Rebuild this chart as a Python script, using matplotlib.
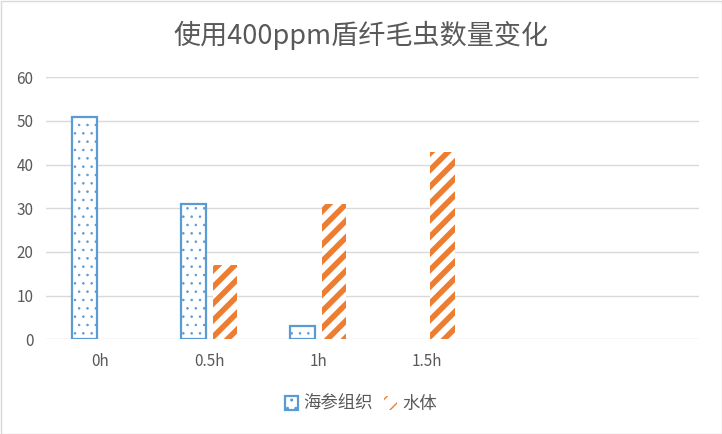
import numpy as np
import matplotlib
matplotlib.use("Agg")
import matplotlib.pyplot as plt
from matplotlib.patches import Patch, Rectangle

plt.rcParams['font.family'] = ['Noto Sans CJK SC', 'DejaVu Sans']

title = "使用400ppm盾纤毛虫数量变化"
categories = ["0h", "0.5h", "1h", "1.5h", "", ""]
series_names = ["海参组织", "水体"]
haishen = [51, 31, 3, np.nan, np.nan, np.nan]
shuiti = [np.nan, 17, 31, 43, np.nan, np.nan]
yticks = [0, 10, 20, 30, 40, 50, 60]

blue = "#5B9BD5"
orange = "#ED7D31"
grid = "#D9D9D9"
txt = "#595959"

fig = plt.figure(figsize=(7.22, 4.34), dpi=100)
ax = fig.add_axes([46/722, 94.7/434, 653/722, 262/434])

x = np.arange(len(categories))
w = 0.226
off = 0.145
with plt.rc_context({'hatch.linewidth': 0.6}):
    ax.bar(x - off, haishen, w, facecolor="white", edgecolor=blue, linewidth=1.6,
           hatch='..', zorder=3)
    h_blue = Patch(facecolor="white", edgecolor=blue, linewidth=1.6, hatch='..')
with plt.rc_context({'hatch.linewidth': 4.0}):
    ax.bar(x + off, shuiti, w, facecolor="white", edgecolor=orange, linewidth=0,
           hatch='//', zorder=3)
    h_orange = Patch(facecolor="white", edgecolor=orange, linewidth=0, hatch='//')

ax.set_xlim(-0.5, len(categories) - 0.5)
ax.set_ylim(0, 60)
ax.set_yticks(yticks)
ax.set_xticks(x)
ax.set_xticklabels(categories)
ax.yaxis.grid(True, color=grid, linewidth=1.0, zorder=0)
ax.set_axisbelow(True)
for s in ax.spines.values():
    s.set_visible(False)
ax.tick_params(length=0, colors=txt, labelsize=11)
ax.tick_params(axis='y', pad=9)
ax.tick_params(axis='x', pad=10)

fig.text(0.5, 1 - 35/434, title, ha='center', va='center', fontsize=19.5, color=txt)

leg = fig.legend([h_blue, h_orange], series_names, loc='center', bbox_to_anchor=(0.5, 1 - 404/434),
                 ncol=2, frameon=False, fontsize=12.5, handlelength=0.8, handleheight=0.8,
                 handletextpad=0.3, columnspacing=0.6, labelcolor=txt)

fig.patches.append(Rectangle((0.5/722, 0.5/434), 1 - 1/722, 1 - 1/434, transform=fig.transFigure,
                             fill=False, edgecolor=grid, linewidth=1.0))

fig.savefig("out.png", dpi=100, facecolor="white")
